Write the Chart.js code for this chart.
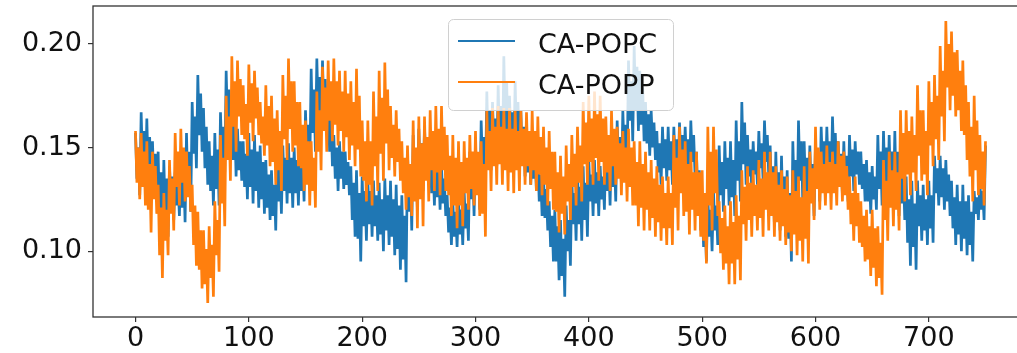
<!DOCTYPE html>
<html>
<head>
<meta charset="utf-8">
<title>CA-POPC / CA-POPP</title>
<script src="https://cdn.jsdelivr.net/npm/chart.js@4/dist/chart.umd.min.js"></script>
<style>
  html, body { margin: 0; padding: 0; background: #fff; overflow: hidden; }
  #wrap { width: 1040px; height: 353px; }
</style>
</head>
<body>
<div id="wrap"><canvas id="trace" width="1040" height="353"></canvas></div>
<script>
//------------------------------ Data ------------------------------//
const seriesNames = ['CA-POPC', 'CA-POPP'];
const seriesColors = ['#1f77b4', '#ff7f0e'];
const sampleStep = 1.25;                      // time between two samples
const xTicks = [0, 100, 200, 300, 400, 500, 600, 700];
const yTicks = [0.10, 0.15, 0.20];

// CA-POPC, one value every 1.25 time units (0 -> 750)
const popcValues = [
  .157,.135,.150,.127, .167,.140,.158,.132, .164,.137,.155,.129, .153,.130,.147,.124, .148,.112,.138,.098,
  .144,.116,.135,.107, .141,.121,.136,.115, .138,.122,.133,.117, .145,.121,.139,.114, .157,.127,.148,.119,
  .172,.147,.165,.140, .185,.156,.176,.148, .169,.140,.160,.132, .153,.129,.146,.122, .157,.130,.149,.122,
  .167,.144,.160,.138, .187,.160,.178,.153, .172,.144,.164,.136, .159,.139,.153,.134, .153,.131,.147,.125,
  .157,.131,.149,.123, .156,.129,.148,.121, .151,.125,.143,.118, .144,.121,.137,.115, .139,.117,.132,.110,
  .146,.124,.140,.118, .151,.129,.145,.123, .152,.128,.145,.121, .150,.128,.144,.122, .148,.129,.143,.124,
  .168,.145,.161,.139, .188,.157,.178,.148, .193,.166,.184,.158, .192,.164,.183,.156, .172,.148,.165,.141,
  .156,.135,.150,.129, .153,.135,.148,.130, .148,.132,.143,.127, .141,.115,.133,.107, .139,.106,.128,.095,
  .136,.112,.129,.105, .135,.113,.129,.107, .134,.112,.127,.105, .133,.108,.125,.100, .135,.110,.127,.103,
  .134,.107,.125,.098, .132,.101,.122,.091, .127,.096,.117,.085, .148,.119,.139,.110, .156,.129,.147,.120,
  .159,.136,.152,.129, .160,.139,.153,.132, .148,.128,.142,.122, .146,.126,.140,.120, .141,.123,.135,.117,
  .127,.109,.121,.103, .124,.107,.119,.102, .125,.108,.120,.103, .129,.111,.123,.105, .148,.125,.140,.117,
  .152,.128,.144,.120, .163,.140,.155,.132, .177,.148,.168,.139, .172,.149,.164,.141, .180,.151,.170,.141,
  .194,.159,.182,.148, .175,.152,.167,.144, .182,.151,.172,.141, .168,.144,.160,.136, .156,.138,.150,.132,
  .153,.135,.147,.129, .144,.124,.137,.117, .136,.116,.130,.110, .124,.102,.117,.095, .120,.095,.112,.086,
  .115,.088,.106,.078, .122,.100,.115,.093, .136,.113,.128,.105, .139,.113,.131,.105, .141,.115,.133,.107,
  .144,.124,.137,.117, .144,.123,.138,.117, .141,.125,.136,.120, .151,.129,.144,.122, .153,.131,.146,.124,
  .163,.140,.155,.132, .168,.146,.161,.139, .192,.163,.182,.153, .199,.168,.189,.158, .187,.161,.179,.153,
  .172,.152,.166,.146, .168,.150,.162,.144, .158,.138,.152,.132, .160,.140,.154,.134, .160,.139,.153,.132,
  .160,.142,.154,.136, .162,.144,.156,.138, .160,.142,.154,.136, .163,.143,.156,.136, .148,.119,.139,.110,
  .124,.102,.117,.095, .127,.107,.120,.100, .129,.110,.122,.103, .151,.127,.143,.119, .153,.130,.145,.122,
  .153,.126,.144,.117, .163,.134,.153,.124, .172,.142,.162,.132, .156,.136,.149,.129, .153,.137,.148,.132,
  .158,.140,.152,.134, .163,.143,.156,.136, .151,.122,.141,.112, .148,.120,.138,.110, .146,.117,.136,.107,
  .139,.106,.128,.095, .153,.126,.144,.117, .163,.134,.153,.124, .153,.128,.145,.120, .151,.126,.142,.117,
  .153,.131,.146,.124, .160,.139,.153,.132, .160,.139,.153,.132, .165,.142,.157,.134, .153,.133,.147,.127,
  .153,.131,.146,.124, .156,.136,.149,.129, .153,.137,.148,.132, .148,.130,.142,.124, .144,.124,.138,.118,
  .141,.125,.136,.120, .156,.130,.148,.122, .158,.132,.150,.124, .156,.130,.148,.122, .158,.127,.148,.117,
  .148,.123,.140,.115, .136,.104,.125,.093, .134,.102,.123,.091, .134,.112,.127,.105, .132,.110,.125,.103,
  .134,.111,.127,.104, .146,.128,.140,.122, .146,.126,.140,.120, .144,.124,.137,.117, .134,.111,.126,.103,
  .132,.108,.124,.100, .132,.106,.124,.098, .127,.103,.119,.095, .129,.118,.126,.115, .134,.120,.129,.115,
  .151
];

// CA-POPP, same sampling
const poppValues = [
  .158,.133,.150,.125, .157,.131,.148,.122, .153,.120,.142,.109, .148,.125,.141,.118, .132,.098,.121,.087,
  .128,.105,.120,.098, .144,.118,.135,.110, .157,.131,.148,.122, .159,.133,.150,.124, .148,.126,.141,.119,
  .132,.103,.122,.093, .119,.091,.110,.082, .110,.084,.101,.075, .112,.087,.103,.078, .124,.098,.115,.090,
  .156,.123,.145,.112, .175,.144,.165,.134, .194,.160,.182,.148, .192,.165,.183,.156, .180,.154,.171,.146,
  .190,.162,.181,.153, .187,.164,.179,.156, .172,.152,.165,.146, .180,.151,.170,.141, .175,.143,.164,.132,
  .168,.139,.158,.129, .185,.154,.175,.144, .193,.159,.182,.148, .182,.151,.172,.141, .172,.140,.161,.129,
  .163,.132,.153,.122, .153,.129,.145,.121, .177,.148,.168,.139, .189,.158,.179,.148, .192,.163,.182,.153,
  .193,.161,.182,.151, .187,.158,.177,.148, .187,.155,.176,.144, .182,.151,.172,.141, .188,.149,.175,.136,
  .163,.134,.153,.124, .163,.132,.153,.122, .177,.141,.165,.129, .187,.147,.174,.134, .191,.152,.178,.139,
  .170,.145,.161,.136, .168,.143,.159,.134, .153,.128,.145,.120, .151,.126,.142,.117, .163,.124,.150,.111,
  .165,.125,.152,.112, .165,.134,.155,.124, .168,.139,.158,.129, .170,.138,.159,.127, .170,.139,.160,.129,
  .156,.127,.146,.117, .156,.122,.145,.111, .153,.122,.143,.112, .153,.128,.145,.120, .156,.130,.148,.122,
  .158,.127,.148,.117, .153,.118,.142,.107, .168,.139,.158,.129, .169,.141,.160,.132, .170,.142,.160,.132,
  .169,.139,.159,.129, .169,.138,.159,.128, .168,.139,.158,.129, .168,.141,.159,.132, .167,.141,.158,.132,
  .168,.139,.158,.129, .165,.137,.155,.127, .160,.132,.150,.122, .158,.130,.148,.120, .148,.119,.138,.109,
  .146,.118,.136,.108, .151,.124,.142,.115, .156,.131,.147,.122, .160,.133,.151,.124, .172,.142,.162,.132,
  .175,.143,.164,.132, .177,.145,.166,.134, .175,.143,.164,.132, .165,.138,.156,.129, .168,.141,.159,.132,
  .160,.135,.152,.127, .158,.133,.150,.124, .159,.131,.150,.122, .153,.122,.143,.112, .153,.121,.142,.110,
  .148,.120,.138,.110, .144,.116,.135,.107, .141,.114,.132,.105, .136,.111,.128,.103, .136,.111,.128,.103,
  .156,.121,.145,.110, .160,.128,.149,.117, .153,.119,.142,.108, .148,.120,.138,.110, .148,.117,.138,.107,
  .139,.105,.128,.094, .160,.122,.148,.110, .160,.128,.149,.117, .124,.099,.116,.091, .122,.094,.112,.084,
  .124,.094,.114,.084, .127,.096,.117,.086, .139,.113,.131,.105, .141,.115,.133,.107, .139,.117,.132,.110,
  .144,.116,.135,.107, .148,.120,.138,.110, .148,.117,.138,.107, .141,.114,.132,.105, .139,.112,.130,.103,
  .136,.109,.127,.100, .139,.108,.129,.098, .136,.105,.126,.095, .141,.106,.129,.094, .148,.123,.140,.115,
  .160,.130,.150,.120, .148,.128,.142,.122, .151,.128,.143,.120, .148,.128,.142,.122, .153,.131,.146,.124,
  .148,.127,.141,.120, .136,.113,.128,.105, .136,.112,.128,.104, .124,.102,.117,.095, .120,.096,.112,.088,
  .120,.092,.111,.083, .112,.087,.104,.079, .144,.115,.134,.105, .148,.121,.139,.112, .148,.120,.138,.110,
  .168,.135,.157,.124, .168,.137,.158,.127, .165,.138,.156,.129, .180,.146,.168,.134, .168,.137,.158,.127,
  .182,.151,.172,.141, .185,.154,.175,.144, .199,.165,.187,.153, .211,.179,.200,.168, .206,.175,.196,.165,
  .197,.168,.187,.158, .192,.156,.180,.144, .172,.136,.160,.124, .175,.139,.163,.127, .156,.130,.148,.122,
  .153
];
//------------------------------------------------------------------//

const tickFont = {family: "'DejaVu Sans'", size: 27};

function toPoints(values){
	return values.map((v, i) => ({x: i * sampleStep, y: v}));
}

// frame on 4 sides + matplotlib style legend box
const frameAndLegend = {
	id: 'frameAndLegend',
	afterDatasetsDraw(chart){
		const ctx = chart.ctx;
		const a = chart.chartArea;
		ctx.save();
		ctx.strokeStyle = '#333';
		ctx.lineWidth = 1.3;
		ctx.strokeRect(a.left, a.top, a.right - a.left, a.bottom - a.top);

		// legend
		ctx.beginPath();
		ctx.roundRect(448.5, 19.5, 225, 91, 5);
		ctx.fillStyle = 'rgba(255,255,255,0.8)';
		ctx.fill();
		ctx.strokeStyle = '#d0d0d0';
		ctx.lineWidth = 1;
		ctx.stroke();

		const rows = [41, 82];
		ctx.font = "27px 'DejaVu Sans'";
		ctx.textBaseline = 'alphabetic';
		ctx.textAlign = 'left';
		chart.data.datasets.forEach((ds, i) => {
			ctx.strokeStyle = ds.borderColor;
			ctx.lineWidth = 2.2;
			ctx.beginPath();
			ctx.moveTo(458, rows[i]);
			ctx.lineTo(515, rows[i]);
			ctx.stroke();
			ctx.fillStyle = '#111';
			ctx.fillText(ds.label, 538, rows[i] + 12);
		});
		ctx.restore();
	}
};

const config = {
	type: 'line',
	data: {
		datasets: [
			{label: seriesNames[0], data: toPoints(popcValues), borderColor: seriesColors[0], order: 1},
			{label: seriesNames[1], data: toPoints(poppValues), borderColor: seriesColors[1], order: 0}
		]
	},
	options: {
		responsive: false,
		animation: false,
		events: [],
		datasets: {line: {borderWidth: 2.7, pointRadius: 0, tension: 0, fill: false, borderJoinStyle: 'miter'}},
		layout: {padding: {top: 6, right: 12, left: 0, bottom: 0}},
		plugins: {legend: {display: false}, tooltip: {enabled: false}},
		scales: {
			x: {
				type: 'linear', min: -37.5, max: 787.5,
				afterBuildTicks: s => { s.ticks = xTicks.map(v => ({value: v})); },
				afterFit: s => { s.height = 36; s.paddingLeft = 0; s.paddingRight = 0; },
				border: {display: false},
				grid: {drawOnChartArea: false, tickLength: 5, color: '#333', lineWidth: 1.2},
				ticks: {font: tickFont, color: '#111', padding: 1, maxRotation: 0, autoSkip: false,
					callback: v => String(v)}
			},
			y: {
				type: 'linear', min: 0.0682, max: 0.2183,
				afterBuildTicks: s => { s.ticks = yTicks.map(v => ({value: v})); },
				afterFit: s => { s.width = 93; s.paddingTop = 0; s.paddingBottom = 0; },
				border: {display: false},
				grid: {drawOnChartArea: false, tickLength: 5, color: '#333', lineWidth: 1.2},
				ticks: {font: tickFont, color: '#111', padding: 6, callback: v => v.toFixed(2)}
			}
		}
	},
	plugins: [frameAndLegend]
};

const chartTrace = new Chart(document.getElementById('trace'), config);
</script>
</body>
</html>
